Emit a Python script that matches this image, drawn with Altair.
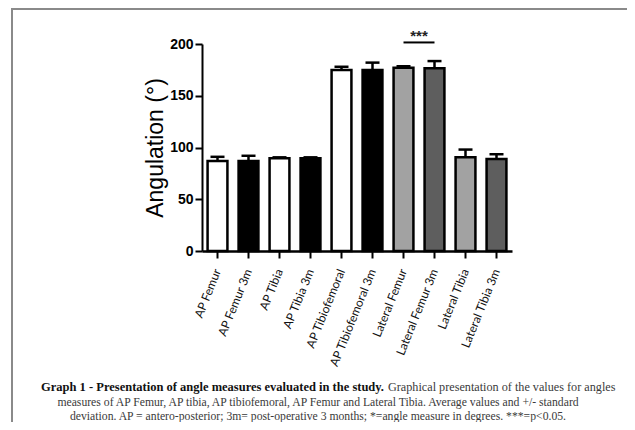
import altair as alt
import pandas as pd

# ---- data ----
categories = ["AP Femur", "AP Femur 3m", "AP Tibia", "AP Tibia 3m", "AP Tibiofemoral",
              "AP Tibiofemoral 3m", "Lateral Femur", "Lateral Femur 3m", "Lateral Tibia",
              "Lateral Tibia 3m"]
means = [87, 87, 89.5, 89.5, 175, 175, 177, 176.5, 90.5, 89]
sds = [4, 5, 1, 1, 3, 7, 1.5, 7, 7.5, 4.5]
bar_colors = ["#ffffff", "#000000", "#ffffff", "#000000", "#ffffff", "#000000",
              "#a2a2a2", "#5e5e5e", "#a2a2a2", "#5e5e5e"]
y_ticks = [0, 50, 100, 150, 200]

sig_from = ["Lateral Femur"]
sig_to = ["Lateral Femur 3m"]
sig_level = [201.5]
sig_label = ["***"]

caption_bold = "Graph 1 - Presentation of  angle measures evaluated in the study."
caption_lines = [
    "Graphical presentation of the values for angles",
    "measures of  AP Femur, AP tibia, AP tibiofemoral, AP Femur and Lateral Tibia. Average values and +/- standard",
    "deviation. AP = antero-posterior; 3m= post-operative 3 months; *=angle measure in degrees. ***=p<0.05.",
]

df = pd.DataFrame({
    "category": categories,
    "mean": means,
    "upper": [m + s for m, s in zip(means, sds)],
})
sig_df = pd.DataFrame({"category": sig_from, "category2": sig_to,
                       "level": sig_level, "label": sig_label})

x_enc = alt.X(
    "category:N", sort=categories, title=None,
    scale=alt.Scale(domain=categories, paddingInner=0.36, paddingOuter=0.18),
    axis=alt.Axis(labelAngle=-68, labelFont="Lato", labelFontSize=12, labelColor="#111111",
                  labelPadding=11, domainColor="black", domainWidth=2.5, tickColor="black",
                  tickWidth=2, tickSize=7, labelOverlap=False, grid=False),
)
y_scale = alt.Scale(domain=[0, 200], nice=False)
y_axis = alt.Axis(values=y_ticks, title="Angulation (°)", titleFont="Liberation Sans",
                  titleFontSize=23, titleFontWeight="normal", titleColor="black",
                  titlePadding=2, labelFont="Liberation Sans", labelFontWeight="bold",
                  labelFontSize=14, labelColor="black", labelPadding=2,
                  domainColor="black", domainWidth=2, tickColor="black", tickWidth=2,
                  tickSize=7, grid=False)

base = alt.Chart(df)

err = base.mark_rule(color="black", strokeWidth=2.5).encode(
    x=x_enc, y=alt.Y("mean:Q", scale=y_scale, axis=y_axis), y2="upper:Q")
cap = base.mark_tick(color="black", thickness=2.5, size=14, opacity=1).encode(
    x=x_enc, y=alt.Y("upper:Q", scale=y_scale))
bars = base.mark_bar(stroke="black", strokeWidth=2.5, opacity=1).encode(
    x=x_enc,
    y=alt.Y("mean:Q", scale=y_scale, axis=y_axis),
    color=alt.Color("category:N", scale=alt.Scale(domain=categories, range=bar_colors),
                    legend=None),
)

sig_rule = alt.Chart(sig_df).mark_rule(color="black", strokeWidth=2).encode(
    x=alt.X("category:N", sort=categories, title=None), x2="category2:N",
    y=alt.Y("level:Q", scale=y_scale))
sig_text = alt.Chart(sig_df).mark_text(font="Liberation Sans", fontSize=15, fontWeight="bold",
                                       color="#222222", dx=15.5, dy=-6, baseline="middle").encode(
    x=alt.X("category:N", sort=categories, title=None),
    y=alt.Y("level:Q", scale=y_scale), text="label:N")

# ---- frame and caption (page decoration) ----
frame_left = alt.Chart(pd.DataFrame({"a": [0]})).mark_rule(color="#8a8a8a", strokeWidth=2).encode(
    x=alt.value(-190), y=alt.value(-36), y2=alt.value(380))
frame_top = alt.Chart(pd.DataFrame({"a": [0]})).mark_rule(color="#8a8a8a", strokeWidth=2).encode(
    x=alt.value(-191), x2=alt.value(430), y=alt.value(-35))

cap_bold = alt.Chart(pd.DataFrame({"t": [caption_bold]})).mark_text(
    font="Liberation Serif", fontSize=12.5, fontWeight="bold", color="#111111",
    align="right", baseline="middle").encode(
    x=alt.value(182), y=alt.value(343), text="t:N")
cap1 = alt.Chart(pd.DataFrame({"t": [caption_lines[0]]})).mark_text(
    font="Liberation Serif", fontSize=12.2, color="#3a3a3a", align="left",
    baseline="middle").encode(x=alt.value(186), y=alt.value(343), text="t:N")
cap2 = alt.Chart(pd.DataFrame({"t": [caption_lines[1]]})).mark_text(
    font="Liberation Serif", fontSize=11.7, color="#3a3a3a", align="center",
    baseline="middle").encode(x=alt.value(116), y=alt.value(357.5), text="t:N")
cap3 = alt.Chart(pd.DataFrame({"t": [caption_lines[2]]})).mark_text(
    font="Liberation Serif", fontSize=11.7, color="#3a3a3a", align="center",
    baseline="middle").encode(x=alt.value(116), y=alt.value(371.5), text="t:N")

chart = alt.layer(err, cap, bars, sig_rule, sig_text, frame_left, frame_top,
                  cap_bold, cap1, cap2, cap3).properties(
    width=310, height=207,
    autosize=alt.AutoSizeParams(type="none"),
    padding={"left": 194, "top": 36, "right": 115, "bottom": 171},
    background="white",
).configure_view(stroke=None)

chart.save("out.html", embed_options={"renderer": "svg", "actions": False})
